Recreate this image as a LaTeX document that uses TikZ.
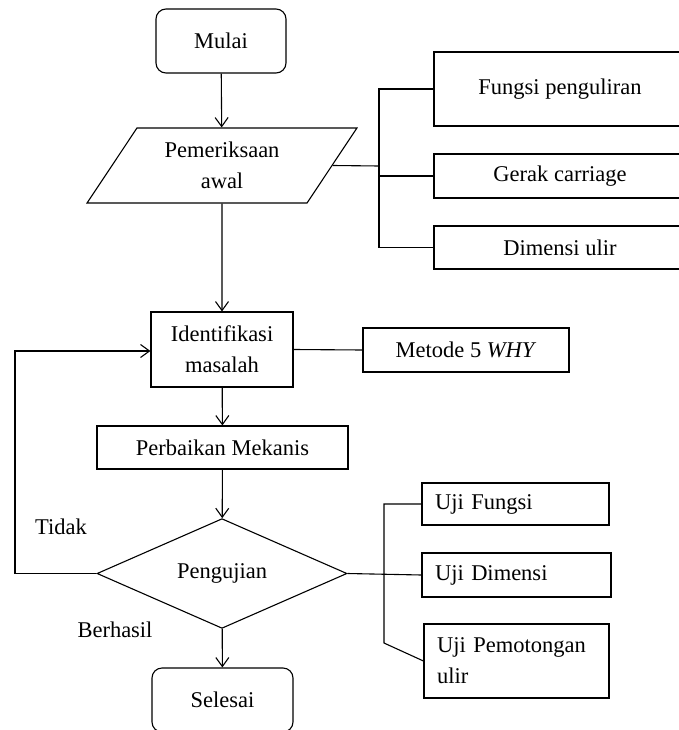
\documentclass[tikz,border=0pt]{standalone}
\usepackage{fontspec}
\setmainfont{Liberation Serif}
\usetikzlibrary{positioning,arrows.meta,shapes.geometric}

\begin{document}
\begin{tikzpicture}[x=1pt, y=-1pt, line width=1.1pt,
  font=\fontsize{22.5}{31}\selectfont,
  >={Straight Barb[length=9pt,width=13pt,line width=1.1pt]},
  terminal/.style={draw, rounded corners=10pt, minimum width=141pt, minimum height=64pt, inner sep=0pt},
  kotak/.style={draw, inner sep=0pt, align=center},
  ujibox/.style={draw, inner xsep=13pt, inner ysep=0pt, align=left}]

\useasboundingbox (0,0) rectangle (678,730);

% nodes (manual positions for clearer layout)
\node[terminal, minimum width=130pt] (mulai) at (221,41) {Mulai};
\node[draw, trapezium, trapezium left angle=54.2, trapezium right angle=125.8,
      trapezium stretches=true, minimum width=270pt, minimum height=75pt,
      inner sep=0pt, align=center] (periksa) at (222,165.5) {Pemeriksaan\\awal};
\node[kotak, minimum width=252pt, minimum height=74pt] (fungsi) at (560,89) {Fungsi penguliran};
\node[kotak, minimum width=252pt, minimum height=44pt] (gerak) at (560,176) {Gerak carriage};
\node[kotak, minimum width=252pt, minimum height=43pt] (dimensi) at (560,247.5) {Dimensi ulir};

\node[kotak, minimum width=142pt, minimum height=75pt] (identifikasi) at (222,349.5) {Identifikasi\\masalah};
\node[kotak, minimum width=206pt, minimum height=44pt] (metode) at (466,350) {Metode 5 \textit{WHY}};
\node[kotak, minimum width=251pt, minimum height=43pt] (perbaikan) at (222.5,447.5) {Perbaikan Mekanis};
\node[draw, diamond, minimum width=250pt, minimum height=91pt, inner sep=0pt] (uji) at (222,573.5) {Pengujian};
\node[terminal] (selesai) at (222.5,700) {Selesai};

\node[ujibox, text width=161pt, minimum height=42pt] (ujifungsi) at (515.5,504) {Uji Fungsi};
\node[ujibox, text width=163pt, minimum height=44pt] (ujidimensi) at (516.5,575) {Uji Dimensi};
\node[ujibox, text width=159pt, minimum height=74pt] (ujipotong) at (516.5,661) {Uji Pemotongan\\ulir};

\node (tidak) at (61,527) {Tidak};
\node (berhasil) at (115,630) {Berhasil};

\coordinate (cabang) at (379,166);
\coordinate (kiri) at (15,573.5);
\coordinate (tekuk) at (384,643);

% main flow
\draw[->] (mulai) -- (periksa);
\draw[->] (periksa) -- (identifikasi);
\draw[->] (identifikasi) -- (perbaikan);
\draw[->] (perbaikan) -- (uji);
\draw[->] (uji) -- (selesai);

% branches of pemeriksaan awal
\draw (periksa.east) -- (cabang);
\draw (fungsi.west) -- (fungsi.west -| cabang) -- (dimensi.west -| cabang) -- (dimensi.west);
\draw (cabang |- gerak.west) -- (gerak.west);

% metode and loop back
\draw (identifikasi.east) -- (metode.west);
\draw[->] (uji.west) -- (kiri) |- ([yshift=-1.5pt]identifikasi.west);

% branches of pengujian
\draw (uji.east) -- (ujidimensi.west);
\draw (ujifungsi.west) -- (ujifungsi.west -| tekuk) -- (tekuk) -- (ujipotong.west);

\end{tikzpicture}
\end{document}
